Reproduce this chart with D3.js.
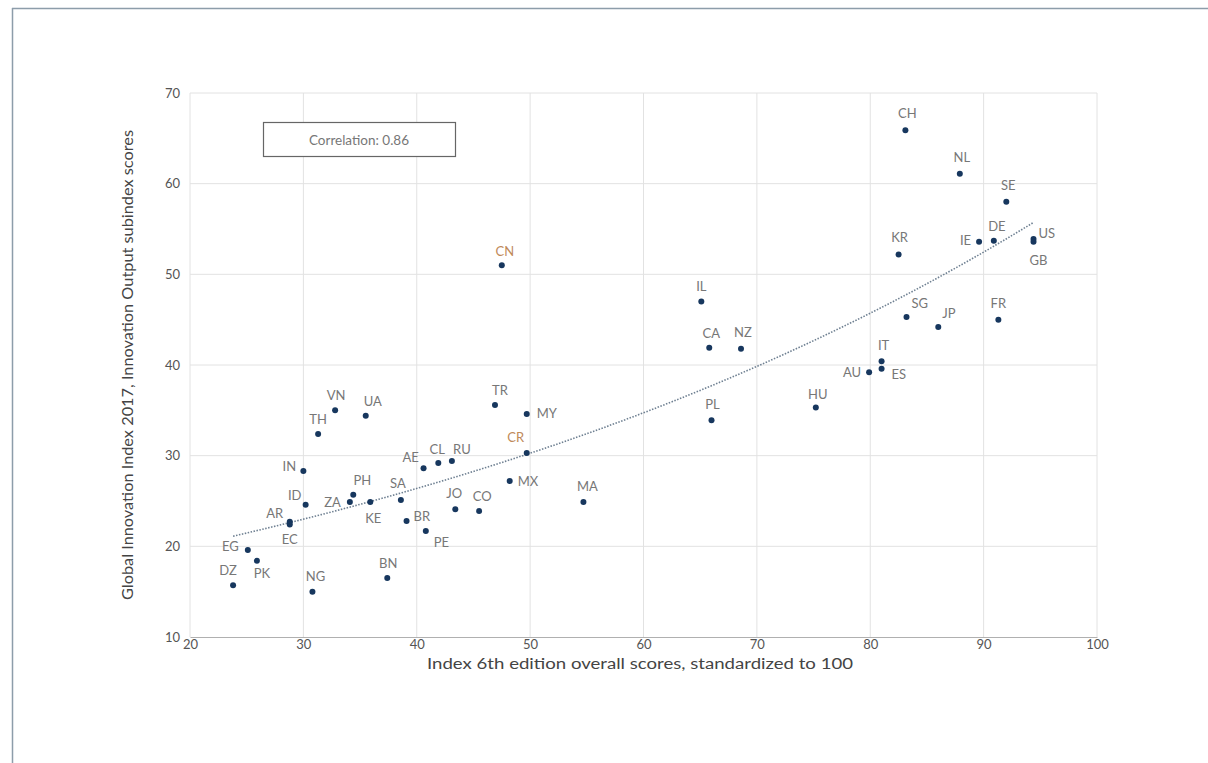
<!DOCTYPE html>
<html>
<head>
<meta charset="utf-8">
<script src="https://cdn.jsdelivr.net/npm/d3@7"></script>
<style>
  html, body { margin: 0; padding: 0; background: #fff; }
  svg { display: block; }
  text { font-family: Lato, "Open Sans", sans-serif; }
</style>
</head>
<body>
<svg id="chart" width="1208" height="763"></svg>
<script>
// ---- Data ----
const codes = ["CH","NL","SE","KR","IE","DE","US","GB","SG","JP","FR","IT","ES","AU","HU",
  "IL","CA","NZ","PL","CN","TR","MY","CR","MX","MA","CO","JO","RU","CL","AE","SA","BR","PE",
  "KE","PH","ZA","ID","IN","TH","VN","UA","AR","EC","EG","PK","DZ","NG","BN"];
const overallScores = [83.1,87.9,92.0,82.5,89.6,90.9,94.4,94.4,83.2,86.0,91.3,81.0,81.0,79.9,75.2,
  65.1,65.8,68.6,66.0,47.5,46.9,49.7,49.7,48.2,54.7,45.5,43.4,43.1,41.9,40.6,38.6,39.1,40.8,
  35.9,34.4,34.1,30.2,30.0,31.3,32.8,35.5,28.8,28.8,25.1,25.9,23.8,30.8,37.4];
const outputScores = [65.9,61.1,58.0,52.2,53.6,53.7,53.9,53.6,45.3,44.2,45.0,40.4,39.6,39.2,35.3,
  47.0,41.9,41.8,33.9,51.0,35.6,34.6,30.3,27.2,24.9,23.9,24.1,29.4,29.2,28.6,25.1,22.8,21.7,
  24.9,25.7,24.9,24.6,28.3,32.4,35.0,34.4,22.7,22.4,19.6,18.4,15.7,15.0,16.5];
const highlighted = ["CN","CR"];
const xTicks = [20,30,40,50,60,70,80,90,100];
const yTicks = [10,20,30,40,50,60,70];
const correlationText = "Correlation: 0.86";
const xTitle = "Index 6th edition overall scores, standardized to 100";
const yTitle = "Global Innovation Index 2017, Innovation Output subindex scores";

// label placement (style only): [dx, dy, anchor]
const labelPos = {
  CH:[2,-12,"middle"], NL:[2,-12,"middle"], SE:[2,-12,"middle"], KR:[1,-12,"middle"],
  IE:[-8,3,"end"], DE:[3,-10,"middle"], US:[5,-1,"start"], GB:[5,23,"middle"],
  SG:[5,-9,"start"], JP:[4,-9,"start"], FR:[0,-12,"middle"], IT:[2,-11,"middle"],
  ES:[10,10,"start"], AU:[-8,5,"end"], HU:[2,-9,"middle"], IL:[0,-11,"middle"],
  CA:[2,-10,"middle"], NZ:[2,-12,"middle"], PL:[1,-11,"middle"], CN:[3,-9,"middle"],
  TR:[5,-10,"middle"], MY:[10,4,"start"], CR:[-11,-11,"middle"], MX:[8,5,"start"],
  MA:[4,-11,"middle"], CO:[3,-10,"middle"], JO:[-1,-11,"middle"], RU:[10,-7,"middle"],
  CL:[-1,-9,"middle"], AE:[-13,-6,"middle"], SA:[-3,-12,"middle"], BR:[7,0,"start"],
  PE:[8,16,"start"], KE:[3,21,"middle"], PH:[9,-10,"middle"], ZA:[-9,5,"end"],
  ID:[-11,-5,"middle"], IN:[-14,0,"middle"], TH:[0,-10,"middle"], VN:[1,-10,"middle"],
  UA:[7,-10,"middle"], AR:[-15,-4,"middle"], EC:[0,19,"middle"], EG:[-9,1,"end"],
  PK:[5,17,"middle"], DZ:[-5,-10,"middle"], NG:[3,-11,"middle"], BN:[1,-10,"middle"]
};

const points = codes.map((c,i) => ({code:c, x:overallScores[i], y:outputScores[i]}));

// ---- Layout ----
const svg = d3.select("#chart");
const mLeft = 190, mRight = 1097, mTop = 93, mBottom = 637;
const x = d3.scaleLinear().domain([20,100]).range([mLeft,mRight]);
const y = d3.scaleLinear().domain([10,70]).range([mBottom,mTop]);
const fontStack = 'Lato, "Open Sans", sans-serif';

// outer frame
svg.append("line").attr("x1",12).attr("x2",1208).attr("y1",8.5).attr("y2",8.5)
  .attr("stroke","#8d9daa").attr("stroke-width",1.5);
svg.append("line").attr("x1",12.5).attr("x2",12.5).attr("y1",8).attr("y2",763)
  .attr("stroke","#8d9daa").attr("stroke-width",1.5);

// gridlines
const grid = svg.append("g");
grid.selectAll(".gx").data(xTicks).join("line")
  .attr("x1",d=>x(d)).attr("x2",d=>x(d)).attr("y1",mTop).attr("y2",mBottom)
  .attr("stroke","#e2e2e2").attr("stroke-width",1);
grid.selectAll(".gy").data(yTicks.filter(d=>d>10)).join("line")
  .attr("x1",mLeft).attr("x2",mRight).attr("y1",d=>y(d)).attr("y2",d=>y(d))
  .attr("stroke","#e2e2e2").attr("stroke-width",1);

// axes
const xAxis = svg.append("g").attr("transform",`translate(0,${mBottom})`)
  .call(d3.axisBottom(x).tickValues(xTicks).tickSize(0).tickPadding(3));
xAxis.select(".domain").attr("stroke","#b0b0b0").attr("stroke-width",1.2);
xAxis.selectAll("text").attr("fill","#555").attr("font-size",13).attr("font-family",fontStack);

const yAxis = svg.append("g").attr("transform",`translate(${mLeft},0)`)
  .call(d3.axisLeft(y).tickValues(yTicks).tickSize(0).tickPadding(10));
yAxis.select(".domain").remove();
yAxis.selectAll("text").attr("fill","#555").attr("font-size",13).attr("font-family",fontStack);

// axis titles
svg.append("text").attr("x",640).attr("y",669).attr("text-anchor","middle")
  .attr("font-size",14.5).attr("fill","#444")
  .attr("textLength",426).attr("lengthAdjust","spacingAndGlyphs").text(xTitle);
svg.append("text").attr("transform",`translate(133,365) rotate(-90)`)
  .attr("text-anchor","middle").attr("font-size",14.5).attr("fill","#444")
  .attr("textLength",470).attr("lengthAdjust","spacingAndGlyphs").text(yTitle);

// correlation box
svg.append("rect").attr("x",263.5).attr("y",122.5).attr("width",192).attr("height",34)
  .attr("fill","#fff").attr("stroke","#666").attr("stroke-width",1.2);
svg.append("text").attr("x",359).attr("y",144.5).attr("text-anchor","middle")
  .attr("font-size",13.5).attr("fill","#777").text(correlationText);

// exponential trendline fitted from data (least squares on ln y)
const mx = d3.mean(points, p=>p.x);
const my = d3.mean(points, p=>Math.log(p.y));
const sxy = d3.sum(points, p=>(p.x-mx)*(Math.log(p.y)-my));
const sxx = d3.sum(points, p=>(p.x-mx)*(p.x-mx));
const bCoef = sxy/sxx, aCoef = Math.exp(my - bCoef*mx);
const [xmin,xmax] = d3.extent(points, p=>p.x);
const trendXs = d3.range(0,101).map(i => xmin + (xmax-xmin)*i/100);
svg.append("path")
  .attr("d", d3.line().x(v=>x(v)).y(v=>y(aCoef*Math.exp(bCoef*v)))(trendXs))
  .attr("fill","none").attr("stroke","#6f8092").attr("stroke-width",1.6)
  .attr("stroke-dasharray","1.5,1.5");

// points
svg.append("g").selectAll("circle").data(points).join("circle")
  .attr("cx",d=>x(d.x)).attr("cy",d=>y(d.y)).attr("r",3)
  .attr("fill","#17375e");

// labels
svg.append("g").selectAll("text").data(points).join("text")
  .attr("x",d=>x(d.x)+labelPos[d.code][0])
  .attr("y",d=>y(d.y)+labelPos[d.code][1])
  .attr("text-anchor",d=>labelPos[d.code][2])
  .attr("font-size",13)
  .attr("fill",d=>highlighted.includes(d.code) ? "#c08a5a" : "#777")
  .text(d=>d.code);
</script>
</body>
</html>
